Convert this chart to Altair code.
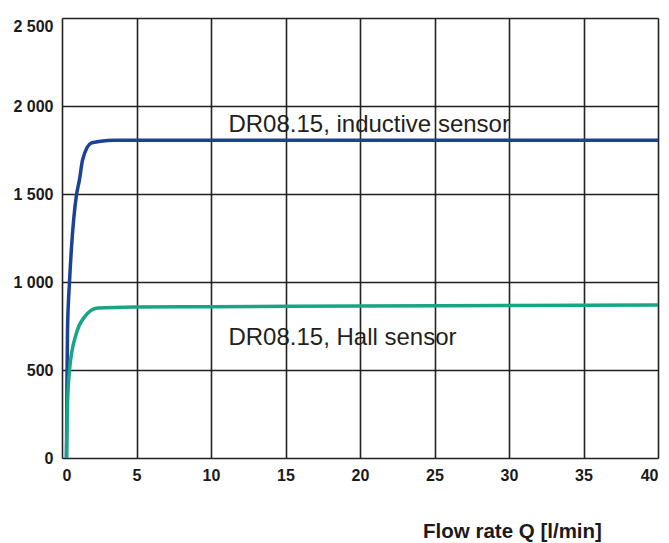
import altair as alt
import pandas as pd

# Inductive sensor curve
ind_q = [0.30, 0.33, 0.37, 0.50, 0.64, 0.97, 1.17, 1.38, 1.98, 2.6, 3.5, 10, 20, 30, 40]
ind_f = [0, 400, 727, 994, 1199, 1494, 1580, 1693, 1790, 1800, 1805, 1805, 1805, 1805, 1805]

# Hall sensor curve
hall_q = [0.30, 0.35, 0.50, 0.97, 1.5, 2.4, 4.9, 10, 20, 30, 40]
hall_f = [0, 256, 500, 710, 800, 852, 858, 860, 864, 867, 870]

label_text = ["DR08.15, inductive sensor", "DR08.15, Hall sensor"]
label_q = [11.17, 11.17]
label_f = [1852, 642]

x_ticks = [0, 5, 10, 15, 20, 25, 30, 35, 40]
y_ticks = [0, 500, 1000, 1500, 2000, 2500]

df = pd.concat([
    pd.DataFrame({"q": ind_q, "f": ind_f, "s": "inductive"}),
    pd.DataFrame({"q": hall_q, "f": hall_f, "s": "hall"}),
])
labels = pd.DataFrame({"t": label_text, "q": label_q, "f": label_f})

xs = alt.Scale(domain=[0, 40], nice=False, zero=False)
ys = alt.Scale(domain=[0, 2500], nice=False)

x_axis = alt.Axis(values=x_ticks, ticks=False, labelPadding=9, labelFontSize=16,
                  labelFontWeight="bold", labelFont="Liberation Sans", labelColor="#1a1a1a",
                  title="Flow rate Q [l/min]", titleFontSize=20.5, titleFontWeight="bold",
                  titleFont="Liberation Sans", titleColor="#1a1a1a", titleX=450, titleY=79,
                  titleAlign="center", titleBaseline="alphabetic",
                  gridColor="#222", gridWidth=1.6, gridOpacity=1, domain=False)
y_axis = alt.Axis(values=y_ticks, ticks=False, labelPadding=9, labelFontSize=16,
                  labelFontWeight="bold", labelFont="Liberation Sans", labelColor="#1a1a1a",
                  labelExpr="replace(format(datum.value, ','), ',', ' ')",
                  labelBaseline=alt.condition("datum.value == 2500", alt.value("top"), alt.value("middle")),
                  title=None, gridColor="#222", gridWidth=1.6, gridOpacity=1, domain=False)

lines = alt.Chart(df).mark_line(strokeWidth=3.5, interpolate="monotone").encode(
    x=alt.X("q:Q", scale=xs, axis=x_axis),
    y=alt.Y("f:Q", scale=ys, axis=y_axis),
    color=alt.Color("s:N", scale=alt.Scale(domain=["inductive", "hall"], range=["#1b4296", "#17a583"]), legend=None),
    detail="s:N",
)

text = alt.Chart(labels).mark_text(align="left", baseline="alphabetic", fontSize=24,
                                   font="Liberation Sans", color="#231f20").encode(
    x=alt.X("q:Q", scale=xs),
    y=alt.Y("f:Q", scale=ys),
    text="t:N",
)

chart = alt.layer(text, lines).properties(
    width=596, height=440,
    autosize=alt.AutoSizeParams(type="none"),
    padding={"left": 62, "top": 18, "right": 11, "bottom": 85},
).configure_view(stroke="#111", strokeWidth=2).configure(background="white")

chart.save("out.html", embed_options={"renderer": "svg", "actions": False})
